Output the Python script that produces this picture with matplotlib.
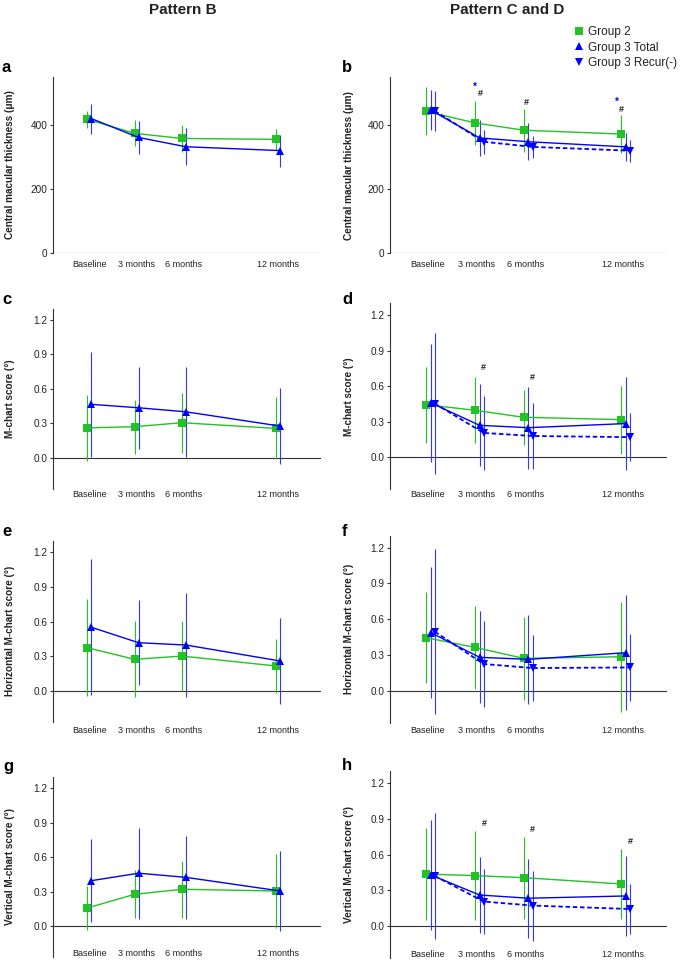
import matplotlib
matplotlib.use("Agg")
import matplotlib.pyplot as plt
from matplotlib.lines import Line2D

plt.rcParams['font.family'] = ['Liberation Sans', 'DejaVu Sans']

# time points (months) and labels
months = [0, 3, 6, 12]
xlabels = ['Baseline', '3 months', '6 months', '12 months']

# ---- Pattern B (left column): Group 2 and Group 3 Total, mean and SD ----
cmt_b_g2 = [418, 374, 358, 355]
cmt_b_g2_sd = [26, 41, 41, 34]
cmt_b_g3 = [420, 361, 332, 320]
cmt_b_g3_sd = [47, 53, 58, 50]

mc_b_g2 = [0.26, 0.27, 0.305, 0.255]
mc_b_g2_sd = [0.29, 0.235, 0.26, 0.27]
mc_b_g3 = [0.465, 0.435, 0.40, 0.275]
mc_b_g3_sd = [0.46, 0.355, 0.39, 0.33]

hmc_b_g2 = [0.373, 0.272, 0.30, 0.214]
hmc_b_g2_sd = [0.42, 0.33, 0.305, 0.232]
hmc_b_g3 = [0.55, 0.416, 0.396, 0.257]
hmc_b_g3_sd = [0.59, 0.37, 0.45, 0.376]

vmc_b_g2 = [0.157, 0.276, 0.32, 0.305]
vmc_b_g2_sd = [0.19, 0.21, 0.25, 0.32]
vmc_b_g3 = [0.395, 0.46, 0.424, 0.305]
vmc_b_g3_sd = [0.36, 0.395, 0.36, 0.35]

# ---- Pattern C and D (right column): Group 2, Group 3 Total, Group 3 Recur(-) ----
cmt_cd_g2 = [443, 407, 384, 372]
cmt_cd_g2_sd = [75, 69, 67, 59]
cmt_cd_g3 = [447, 360, 348, 332]
cmt_cd_g3_sd = [63, 57, 58, 44]
cmt_cd_rn = [444, 348, 332, 320]
cmt_cd_rn_sd = [63, 38, 35, 35]

mc_cd_g2 = [0.445, 0.397, 0.338, 0.318]
mc_cd_g2_sd = [0.32, 0.28, 0.233, 0.287]
mc_cd_g3 = [0.46, 0.27, 0.25, 0.285]
mc_cd_g3_sd = [0.50, 0.345, 0.345, 0.395]
mc_cd_rn = [0.453, 0.206, 0.18, 0.17]
mc_cd_rn_sd = [0.595, 0.31, 0.28, 0.205]

hmc_cd_g2 = [0.445, 0.364, 0.271, 0.285]
hmc_cd_g2_sd = [0.38, 0.35, 0.347, 0.46]
hmc_cd_g3 = [0.487, 0.28, 0.263, 0.319]
hmc_cd_g3_sd = [0.55, 0.385, 0.376, 0.48]
hmc_cd_rn = [0.495, 0.224, 0.19, 0.195]
hmc_cd_rn_sd = [0.69, 0.36, 0.28, 0.28]

vmc_cd_g2 = [0.437, 0.423, 0.406, 0.353]
vmc_cd_g2_sd = [0.386, 0.372, 0.346, 0.295]
vmc_cd_g3 = [0.429, 0.26, 0.233, 0.252]
vmc_cd_g3_sd = [0.46, 0.318, 0.333, 0.34]
vmc_cd_rn = [0.42, 0.205, 0.171, 0.142]
vmc_cd_rn_sd = [0.53, 0.27, 0.295, 0.21]

# significance marks: (panel, symbol, x, y)
sig_marks = [
    ('b', '*', 2.9, 520), ('b', '#', 3.22, 499),
    ('b', '#', 6.06, 469),
    ('b', '*', 11.6, 471), ('b', '#', 11.9, 449),
    ('d', '#', 3.4, 0.756), ('d', '#', 6.41, 0.67),
    ('h', '#', 3.46, 0.864), ('h', '#', 6.45, 0.813), ('h', '#', 12.43, 0.709),
]

GREEN = '#22c322'
BLUE = '#0000ff'
EBLUE = '#3535ff'
TXT = '#222222'

W, H = 685, 960
fig = plt.figure(figsize=(W / 100, H / 100), dpi=100)


def add_axes_px(left, right, top, bottom):
    return fig.add_axes([left / W, 1 - bottom / H, (right - left) / W, (bottom - top) / H])


def series(ax, x, y, sd, color, ecolor, marker, ms, ls='-'):
    ax.errorbar(x, y, yerr=sd, color=color, ecolor=ecolor, elinewidth=0.8,
                capsize=1.8, capthick=0.9, marker=marker, markersize=ms,
                linestyle=ls, linewidth=1.0 if ls == '-' else 1.3,
                markeredgewidth=0, zorder=3)


def setup(ax, ylab, ylim, yticks, fmt, pad, letter, letter_xy, ylab_x):
    ax.set_ylim(*ylim)
    ax.set_xlim(-2.3, 14.7)
    ax.set_yticks(yticks)
    ax.set_yticklabels([fmt.format(v) for v in yticks], fontsize=7.2, color=TXT)
    ax.set_xticks(months)
    ax.set_xticklabels(xlabels, fontsize=6.5, color=TXT)
    ax.tick_params(axis='x', length=0, pad=pad)
    ax.tick_params(axis='y', length=2.5, width=0.8, pad=1.5, color='#333333')
    for s in ['top', 'right', 'bottom']:
        ax.spines[s].set_visible(False)
    ax.spines['left'].set_linewidth(0.8)
    ax.spines['left'].set_color('#333333')
    ax.axhline(0, color='#333333', linewidth=0.8, zorder=1)
    ax.set_ylabel(ylab, fontsize=7.2, fontweight='bold', color=TXT)
    ax.yaxis.set_label_coords(ylab_x, 0.5)
    fig.text(letter_xy[0] / W, 1 - letter_xy[1] / H, letter, fontsize=12,
             fontweight='bold', ha='left', va='center')


m_ylim = (-0.27, 1.3)
m_ticks = [0.0, 0.3, 0.6, 0.9, 1.2]

left_panels = [
    ('a', (53, 321, 77, 253), 'Central macular thickness (\u03bcm)', (0, 550), [0, 200, 400], '{:.0f}', 5,
     cmt_b_g2, cmt_b_g2_sd, cmt_b_g3, cmt_b_g3_sd, (2, 67)),
    ('c', (53, 321, 308.5, 488.7), 'M-chart score (\u00b0)', m_ylim, m_ticks, '{:.1f}', 1,
     mc_b_g2, mc_b_g2_sd, mc_b_g3, mc_b_g3_sd, (2, 300)),
    ('e', (53, 321, 540.8, 721.8), 'Horizontal M-chart score (\u00b0)', m_ylim, m_ticks, '{:.1f}', 3,
     hmc_b_g2, hmc_b_g2_sd, hmc_b_g3, hmc_b_g3_sd, (2, 532)),
    ('g', (53, 321, 776.8, 957), 'Vertical M-chart score (\u00b0)', m_ylim, m_ticks, '{:.1f}', -6,
     vmc_b_g2, vmc_b_g2_sd, vmc_b_g3, vmc_b_g3_sd, (3, 766)),
]

right_panels = [
    ('b', (390, 667, 77, 253.3), 'Central macular thickness (\u03bcm)', (0, 550), [0, 200, 400], '{:.0f}', 5,
     cmt_cd_g2, cmt_cd_g2_sd, cmt_cd_g3, cmt_cd_g3_sd, cmt_cd_rn, cmt_cd_rn_sd, (342, 67)),
    ('d', (390, 667, 303.3, 489.3), 'M-chart score (\u00b0)', m_ylim, m_ticks, '{:.1f}', 0.5,
     mc_cd_g2, mc_cd_g2_sd, mc_cd_g3, mc_cd_g3_sd, mc_cd_rn, mc_cd_rn_sd, (342, 300)),
    ('f', (390, 667, 535.7, 722.9), 'Horizontal M-chart score (\u00b0)', m_ylim, m_ticks, '{:.1f}', 2,
     hmc_cd_g2, hmc_cd_g2_sd, hmc_cd_g3, hmc_cd_g3_sd, hmc_cd_rn, hmc_cd_rn_sd, (342, 532)),
    ('h', (390, 667, 771.4, 958), 'Vertical M-chart score (\u00b0)', m_ylim, m_ticks, '{:.1f}', -5.5,
     vmc_cd_g2, vmc_cd_g2_sd, vmc_cd_g3, vmc_cd_g3_sd, vmc_cd_rn, vmc_cd_rn_sd, (342, 766)),
]

axes = {}
for (letter, box, ylab, ylim, yt, fmt, pad, g2, g2sd, g3, g3sd, lxy) in left_panels:
    ax = add_axes_px(*box)
    series(ax, [m - 0.13 for m in months], g2, g2sd, GREEN, GREEN, 's', 6.2)
    series(ax, [m + 0.13 for m in months], g3, g3sd, BLUE, EBLUE, '^', 6.2)
    setup(ax, ylab, ylim, yt, fmt, pad, letter, lxy, -0.142)
    axes[letter] = ax

for (letter, box, ylab, ylim, yt, fmt, pad, g2, g2sd, g3, g3sd, rn, rnsd, lxy) in right_panels:
    ax = add_axes_px(*box)
    series(ax, [m - 0.1 for m in months], g2, g2sd, GREEN, GREEN, 's', 6.2)
    series(ax, [m + 0.2 for m in months], g3, g3sd, BLUE, EBLUE, '^', 6.2)
    series(ax, [m + 0.45 for m in months], rn, rnsd, BLUE, EBLUE, 'v', 6.2, ls=(0, (2.5, 1.5)))
    setup(ax, ylab, ylim, yt, fmt, pad, letter, lxy, -0.131)
    axes[letter] = ax

for panel, sym, x, y in sig_marks:
    axes[panel].text(x, y, sym, fontsize=7 if sym == '*' else 6.5,
                     color=BLUE if sym == '*' else '#222222',
                     fontweight='bold', ha='center', va='center')

fig.text(183 / W, 1 - 10 / H, 'Pattern B', fontsize=11, fontweight='bold',
         ha='center', va='center', color=TXT)
fig.text(507 / W, 1 - 10 / H, 'Pattern C and D', fontsize=11, fontweight='bold',
         ha='center', va='center', color=TXT)

handles = [
    Line2D([], [], color=GREEN, marker='s', linestyle='none', markersize=5.5, markeredgewidth=0),
    Line2D([], [], color=BLUE, marker='^', linestyle='none', markersize=5.5, markeredgewidth=0),
    Line2D([], [], color=BLUE, marker='v', linestyle='none', markersize=5.5, markeredgewidth=0),
]
fig.legend(handles, ['Group 2', 'Group 3 Total', 'Group 3 Recur(-)'],
           loc='upper left', bbox_to_anchor=(574 / W, 1 - 26 / H), frameon=False,
           fontsize=8.5, handlelength=0.9, handletextpad=0.3, labelspacing=0.3,
           borderpad=0, borderaxespad=0, labelcolor=TXT)

fig.savefig('out.png', dpi=100)
